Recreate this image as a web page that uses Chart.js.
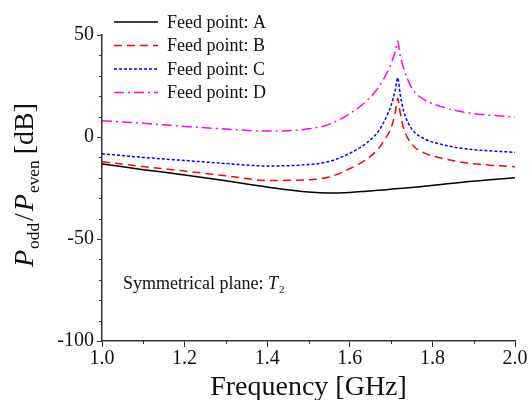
<!DOCTYPE html>
<html>
<head>
<meta charset="utf-8">
<script src="https://cdn.jsdelivr.net/npm/chart.js@4.4.0/dist/chart.umd.min.js"></script>
<style>
  html, body { margin: 0; padding: 0; background: #fff; }
  #wrap { width: 529px; height: 400px; }
</style>
</head>
<body>
<div id="wrap"><canvas id="oddEven"></canvas></div>
<script>
// values (GHz, dB)
const freq = [1.0, 1.1, 1.2, 1.3, 1.4, 1.5, 1.55, 1.6, 1.64, 1.67, 1.69, 1.70, 1.71, 1.716, 1.722, 1.73, 1.75, 1.78, 1.82, 1.88, 1.94, 2.0];
const feedA = [-13.2, -16.0, -18.6, -21.5, -24.5, -27.0, -27.5, -27.2, -26.6, -26.1, -25.8, -25.6, -25.4, -25.3, -25.2, -25.1, -24.8, -24.2, -23.3, -22.0, -21.0, -20.0];
const feedB = [-12.1, -14.5, -16.7, -19.0, -21.3, -21.0, -19.6, -15.5, -11.0, -5.5, 0.5, 4.5, 12.0, 19.0, 12.0, 4.5, -3.5, -7.8, -10.3, -12.6, -13.8, -14.6];
const feedC = [-8.2, -10.0, -11.5, -13.0, -14.2, -13.5, -12.0, -8.0, -3.0, 3.0, 10.5, 15.5, 23.0, 29.0, 21.0, 13.0, 4.0, -0.8, -3.5, -5.8, -6.8, -7.5];
const feedD = [8.0, 6.7, 5.2, 3.9, 2.9, 4.0, 6.2, 11.5, 17.5, 24.5, 31.5, 36.0, 42.0, 47.0, 40.0, 34.0, 24.0, 18.3, 15.0, 12.0, 10.7, 9.8];
const seriesNames = ['Feed point: A', 'Feed point: B', 'Feed point: C', 'Feed point: D'];
const yTicks = [-100, -50, 0, 50];
const xTicks = [1.0, 1.2, 1.4, 1.6, 1.8, 2.0];

const serif = "'Liberation Serif', 'DejaVu Serif', serif";
const axisColor = '#333';

function pts(ys) {
    return freq.map((f, i) => ({ x: f, y: ys[i] }));
}

// draws runs of [text, style, extraGap] where style: 'n' normal, 'i' italic, 's' subscript
function drawRuns(ctx, runs, x, y, size) {
    let cx = x;
    runs.forEach(r => {
        const sub = r[1].includes('s');
        const it = r[1].includes('i');
        const fs = sub ? size * 0.62 : size;
        ctx.font = (it ? 'italic ' : '') + fs + 'px ' + serif;
        ctx.fillText(r[0], cx, sub ? y + size * 0.2 : y);
        cx += ctx.measureText(r[0]).width + (r[2] || 0);
    });
    return cx - x;
}
function runsWidth(ctx, runs, size) {
    let w = 0;
    runs.forEach(r => {
        const sub = r[1].includes('s');
        const it = r[1].includes('i');
        ctx.font = (it ? 'italic ' : '') + (sub ? size * 0.62 : size) + 'px ' + serif;
        w += ctx.measureText(r[0]).width + (r[2] || 0);
    });
    return w;
}

const extras = {
    id: 'extras',
    afterDraw(chart) {
        const ctx = chart.ctx;
        const xs = chart.scales.x, ys = chart.scales.y;
        ctx.save();
        ctx.strokeStyle = axisColor;
        ctx.lineWidth = 1;
        // minor ticks
        for (let v = -100; v <= 50; v += 10) {
            if (v % 50 === 0) continue;
            const py = Math.round(ys.getPixelForValue(v)) + 0.5;
            ctx.beginPath();
            ctx.moveTo(xs.left - 3, py);
            ctx.lineTo(xs.left, py);
            ctx.stroke();
        }
        for (let k = 1; k < 10; k += 2) {
            const px = Math.round(xs.getPixelForValue(1 + k / 10)) + 0.5;
            ctx.beginPath();
            ctx.moveTo(px, ys.bottom);
            ctx.lineTo(px, ys.bottom + 3);
            ctx.stroke();
        }

        // legend
        ctx.fillStyle = '#111';
        ctx.textBaseline = 'middle';
        chart.data.datasets.forEach((ds, i) => {
            const y = 22 + i * 23.5;
            ctx.strokeStyle = ds.borderColor;
            ctx.lineWidth = 1.5;
            ctx.setLineDash(ds.borderDash || []);
            ctx.beginPath();
            ctx.moveTo(114, y);
            ctx.lineTo(158, y);
            ctx.stroke();
            ctx.setLineDash([]);
            ctx.font = '18px ' + serif;
            ctx.fillText(ds.label, 167, y + 1);
        });

        // annotation
        ctx.textBaseline = 'alphabetic';
        drawRuns(ctx, [['Symmetrical plane: ', 'n'], ['T', 'i', 1], ['2', 's']], 123, 289, 18);

        // x title
        const xt = [['Frequency [GHz]', 'n']];
        const xw = runsWidth(ctx, xt, 28);
        drawRuns(ctx, xt, (xs.left + xs.right) / 2 - xw / 2, 395, 28);

        // y title
        const yt = [['P', 'i', 1], ['odd', 's', 2], ['/', 'n', 2], ['P', 'i', 1], ['even', 's', 6], ['[dB]', 'n']];
        const yw = runsWidth(ctx, yt, 28);
        ctx.translate(33, 185 + yw / 2);
        ctx.rotate(-Math.PI / 2);
        drawRuns(ctx, yt, 0, 0, 28);
        ctx.restore();
    }
};

new Chart(document.getElementById('oddEven').getContext('2d'), {
    type: 'line',
    data: {
        datasets: [{
            label: seriesNames[0],
            data: pts(feedA),
            borderColor: '#000000',
            borderWidth: 1.5
        }, {
            label: seriesNames[1],
            data: pts(feedB),
            borderColor: '#ff0000',
            borderDash: [8, 5],
            borderWidth: 1.5
        }, {
            label: seriesNames[2],
            data: pts(feedC),
            borderColor: '#0000ff',
            borderDash: [3, 2],
            borderWidth: 1.5
        }, {
            label: seriesNames[3],
            data: pts(feedD),
            borderColor: '#ff00ff',
            borderDash: [10, 4, 2, 4],
            borderWidth: 1.5
        }]
    },
    options: {
        responsive: true,
        maintainAspectRatio: false,
        animation: false,
        elements: {
            point: { radius: 0 },
            line: { cubicInterpolationMode: 'monotone' }
        },
        layout: { padding: { top: 35, right: 14, left: 0, bottom: 0 } },
        plugins: {
            legend: { display: false },
            tooltip: { enabled: false }
        },
        scales: {
            x: {
                type: 'linear',
                min: 1.0,
                max: 2.0,
                afterBuildTicks: s => { s.ticks = xTicks.map(v => ({ value: v })); },
                afterFit: s => { s.height = 59; },
                ticks: {
                    color: '#111',
                    font: { family: serif, size: 20 },
                    padding: 0,
                    maxRotation: 0,
                    callback: v => Number(v).toFixed(1)
                },
                grid: { drawOnChartArea: false, tickLength: 6, color: axisColor, lineWidth: 1 },
                border: { color: axisColor, width: 1.5 }
            },
            y: {
                min: -100,
                max: 50,
                afterBuildTicks: s => { s.ticks = yTicks.map(v => ({ value: v })); },
                afterFit: s => { s.width = 102; },
                ticks: {
                    color: '#111',
                    font: { family: serif, size: 20 },
                    padding: 3
                },
                grid: { drawOnChartArea: false, tickLength: 5, color: axisColor, lineWidth: 1 },
                border: { color: axisColor, width: 1.5 }
            }
        }
    },
    plugins: [extras]
});
</script>
</body>
</html>
